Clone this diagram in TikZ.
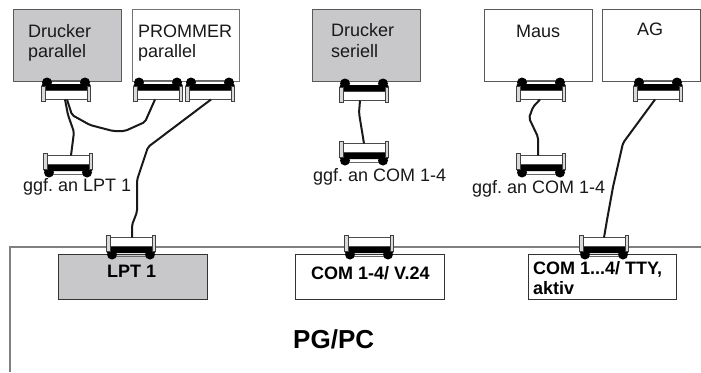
\documentclass[tikz,border=0pt]{standalone}
\usepackage{fontspec}
\setmainfont{Liberation Sans}
\usepackage{xcolor}
\definecolor{devgray}{HTML}{C8C8CA}
\definecolor{edgegray}{HTML}{5A5A5A}
\usetikzlibrary{positioning,calc}
\tikzset{
  dev/.style    ={rectangle, draw=edgegray, fill=white, line width=0.9pt, outer sep=0pt,
                  minimum width=#1, minimum height=72pt},
  devg/.style   ={dev=#1, fill=devgray},
  port/.style   ={rectangle, draw=black!80, fill=white, line width=1pt, outer sep=0pt,
                  minimum width=#1, minimum height=45pt},
  portg/.style  ={port=#1, fill=devgray},
  txt/.style    ={anchor=base west, inner sep=0pt, font=\fontsize{18}{20}\selectfont, text=black!90},
  txtb/.style   ={txt, font=\fontsize{18}{20}\selectfont\bfseries, text=black},
  cable/.style  ={line width=2pt, black!90, rounded corners=2pt, line join=round},
  pgline/.style ={line width=1.3pt, black!50},
  flip/.style   ={yscale=-1},
  plugbody/.style={rectangle, draw=black!70, fill=white, line width=0.7pt, outer sep=0pt,
                  inner sep=0pt, minimum width=42pt, minimum height=9pt},
  plug/.pic={
    \node[plugbody] (-body) at (0,0) {};
    \draw[black!60, line width=0.6pt] (-19,-14.5) -- (19,-14.5);
    \fill[black, rounded corners=1pt] (-24.5,-11) rectangle (24.5,-5);
    \fill[black] (-19,-12.5) circle (5);
    \fill[black] (19,-12.5) circle (5);
    \draw[black!75, fill=black!15, line width=0.8pt] (-24.5,-9) rectangle (-21,6.5);
    \draw[black!75, fill=black!15, line width=0.8pt] (21,-9) rectangle (24.5,6.5);
  },
}
\begin{document}
\frenchspacing
\begin{tikzpicture}[x=1pt, y=-1pt]
  \useasboundingbox (0,0) rectangle (701,372);
  % PG/PC outline
  \draw[pgline] (10,372) -- (10,247) -- (701,247);

  \node[devg=108pt] (druckerp) at (67,45) {};
  \node[dev=107pt, draw=black!55] (prommer) at (185.5,45) {};
  \node[devg=108pt] (druckers) at (366,45) {};
  \node[dev=108pt] (maus) at (538,45) {};
  \node[dev=98pt] (ag) at (651,45) {};
  \node[portg=149pt] (lpt) at (132.5,276.5) {};
  \node[port=149pt] (com) at (369.5,276.5) {};
  \node[port=148pt] (tty) at (602,276.5) {};

  \node[txt] (tdruckerp) at (28,37) {Drucker};
  \node[txt] (tparallela) at (28,57) {parallel};
  \node[txt] (tprommer) at (138,37) {PROMMER};
  \node[txt] (tparallelb) at (138,57) {parallel};
  \node[txt] (tdruckers) at (331,36) {Drucker};
  \node[txt] (tseriell) at (331,57) {seriell};
  \node[txt] (tmaus) at (516,37) {Maus};
  \node[txt] (tag) at (637,35) {AG};
  \node[txt] (tggfa) at (23,191) {ggf. an LPT 1};
  \node[txt] (tggfb) at (313,181) {ggf. an COM 1-4};
  \node[txt] (tggfc) at (472,193) {ggf. an COM 1-4};
  \node[txtb] (tlpt) at (107,277) {LPT 1};
  \node[txtb] (tcom) at (311,279) {COM 1-4/ V.24};
  \node[txtb] (ttya) at (533,274) {COM 1...4/ TTY,};
  \node[txtb] (ttyb) at (533,294) {aktiv};
  \node[txtb, font=\fontsize{26}{28}\selectfont\bfseries] (tpg) at (293,348) {PG/PC};

  % plugs at the devices
  \pic (pa) at (66,95) {plug};
  \pic (pb) at (158,95) {plug};
  \pic (pc) at (210,95) {plug};
  \pic (pd) at (364,96) {plug};
  \pic (pe) at (541,95) {plug};
  \pic (pf) at (658,95) {plug};
  % free plugs
  \pic[flip] (ua) at (68,160) {plug};
  \pic[flip] (ub) at (364,148) {plug};
  \pic[flip] (uc) at (541,160) {plug};
  % plugs on the PG/PC
  \pic[flip] (la) at (131,242) {plug};
  \pic[flip] (lb) at (369,242) {plug};
  \pic[flip] (lc) at (604,242) {plug};

  \draw[cable] ([xshift=-1pt]pa-body.south) -- (68,115) -- (74,132) -- ([xshift=3pt]ua-body.north);
  \draw[cable] ([xshift=1pt]pa-body.south) -- (72,115) -- (90,125) -- (113,131) -- (125,131)
    -- (145,122) -- ([xshift=-3pt]pb-body.south);
  \draw[cable] ([xshift=1pt]pc-body.south) -- (148,147) -- (137,180) -- (137,212) -- (132,225)
    -- ([xshift=1pt]la-body.north);
  \draw[cable] ([xshift=-4pt]pd-body.south) -- (359,113) -- (ub-body.north);
  \draw[cable] ([xshift=-1pt]pe-body.south) -- (533,107) -- (529,118) -- (538,137)
    -- ([xshift=-3pt]uc-body.north);
  \draw[cable] ([xshift=-3pt]pf-body.south) -- (623,143) -- (613,187) -- (607,220)
    -- (lc-body.north);
\end{tikzpicture}
\end{document}
